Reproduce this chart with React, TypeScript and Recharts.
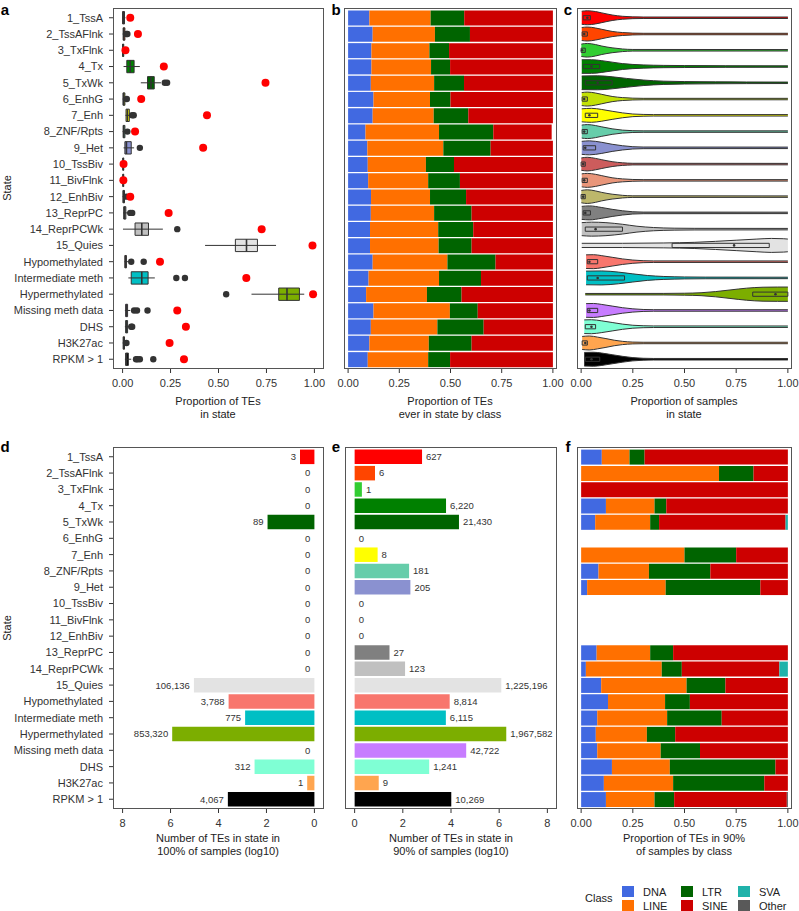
import React from 'react';
import {
  ScatterChart,
  ComposedChart,
  BarChart,
  Bar,
  Cell,
  Scatter,
  Area,
  XAxis,
  YAxis,
  ReferenceArea,
  ReferenceLine,
  ReferenceDot,
  LabelList,
} from 'recharts';

const FONT = '"Liberation Sans", Arial, Helvetica, sans-serif';
const INK = '#333333';
const TICK = { fontSize: 11, fill: INK };

const STATES = [
  '1_TssA', '2_TssAFlnk', '3_TxFlnk', '4_Tx', '5_TxWk', '6_EnhG', '7_Enh', '8_ZNF/Rpts',
  '9_Het', '10_TssBiv', '11_BivFlnk', '12_EnhBiv', '13_ReprPC', '14_ReprPCWk', '15_Quies',
  'Hypomethylated', 'Intermediate meth', 'Hypermethylated', 'Missing meth data', 'DHS',
  'H3K27ac', 'RPKM > 1',
];
const STATE_COLORS = [
  '#FF0000', '#FF4500', '#32CD32', '#008000', '#006400', '#C2E105', '#FFFF00', '#66CDAA',
  '#8A91D0', '#CD5C5C', '#E9967A', '#BDB76B', '#808080', '#C0C0C0', '#E3E3E3',
  '#F8766D', '#00BFC4', '#7CAE00', '#C77CFF', '#7FFFD4', '#FFA54F', '#000000',
];
const ROWS = STATES.map((_, i) => i + 1);

// panel a: proportion of TEs in state (boxplot per sample + red dot)
const BOX_LO = [0, 0, 0, 0.005, 0.095, 0, 0.015, 0, 0.005, 0, 0, 0, 0.003, 0.002, 0.43, 0.01, 0.03, 0.672, 0.012, 0.012, 0, 0.012];
const BOX_Q1 = [0, 0.003, 0, 0.022, 0.13, 0.002, 0.018, 0.003, 0.012, 0.001, 0.001, 0.002, 0.006, 0.065, 0.588, 0.012, 0.045, 0.814, 0.016, 0.016, 0.003, 0.016];
const BOX_MED = [0.004, 0.006, 0.002, 0.04, 0.148, 0.006, 0.025, 0.006, 0.02, 0.003, 0.003, 0.005, 0.01, 0.1, 0.646, 0.015, 0.1, 0.857, 0.02, 0.02, 0.006, 0.02];
const BOX_Q3 = [0.01, 0.012, 0.006, 0.06, 0.165, 0.012, 0.035, 0.012, 0.045, 0.006, 0.006, 0.01, 0.017, 0.135, 0.703, 0.02, 0.133, 0.922, 0.026, 0.026, 0.01, 0.03];
const BOX_HI = [0.015, 0.02, 0.01, 0.09, 0.2, 0.018, 0.045, 0.02, 0.06, 0.01, 0.01, 0.015, 0.03, 0.21, 0.8, 0.03, 0.168, 0.947, 0.04, 0.035, 0.015, 0.045];
const OUTLIERS = [
  [], [0.02, 0.025], [], [], [0.22, 0.232], [0.022], [0.05, 0.058], [0.025], [0.09], [], [], [0.02],
  [0.04, 0.05], [0.285], [], [0.045, 0.11], [0.28, 0.325], [0.54], [0.06, 0.075, 0.13],
  [0.045, 0.05], [0.02], [0.07, 0.078, 0.09, 0.16],
];
const RED_VALUES = [0.04, 0.08, 0.015, 0.215, 0.745, 0.097, 0.44, 0.065, 0.42, 0.005, 0.004, 0.04, 0.24, 0.725, 0.99, 0.195, 0.645, 0.993, 0.285, 0.33, 0.245, 0.32];

// panel b: proportion of TEs ever in state by class
const B_DNA = [0.104, 0.12, 0.114, 0.114, 0.111, 0.124, 0.12, 0.085, 0.094, 0.096, 0.098, 0.112, 0.111, 0.107, 0.107, 0.12, 0.1, 0.088, 0.124, 0.111, 0.104, 0.096];
const B_LINE = [0.299, 0.304, 0.283, 0.291, 0.309, 0.276, 0.298, 0.359, 0.371, 0.284, 0.293, 0.288, 0.309, 0.333, 0.335, 0.365, 0.344, 0.297, 0.373, 0.325, 0.29, 0.295];
const B_LTR = [0.164, 0.171, 0.096, 0.093, 0.146, 0.1, 0.169, 0.265, 0.231, 0.137, 0.155, 0.176, 0.183, 0.171, 0.161, 0.235, 0.205, 0.169, 0.136, 0.226, 0.209, 0.107];
const B_SINE = [0.433, 0.405, 0.507, 0.502, 0.434, 0.5, 0.413, 0.285, 0.304, 0.483, 0.454, 0.424, 0.397, 0.389, 0.397, 0.28, 0.351, 0.446, 0.367, 0.338, 0.397, 0.502];

// panel c: proportion of samples in state, violin outlines as [x, half width]
const VIOLINS: number[][][] = [
  [[0.003, 0.4], [0.03, 0.43], [0.07, 0.38], [0.1, 0.3], [0.15, 0.17], [0.2, 0.09], [0.25, 0.055], [0.3, 0.045], [1, 0.045]],
  [[0.003, 0.4], [0.03, 0.43], [0.07, 0.37], [0.1, 0.29], [0.15, 0.16], [0.2, 0.09], [0.25, 0.055], [0.3, 0.045], [1, 0.045]],
  [[0.001, 0.38], [0.03, 0.42], [0.07, 0.35], [0.1, 0.26], [0.15, 0.15], [0.2, 0.08], [0.25, 0.05], [1, 0.045]],
  [[0.003, 0.42], [0.05, 0.42], [0.1, 0.36], [0.15, 0.27], [0.2, 0.18], [0.3, 0.1], [0.4, 0.07], [0.5, 0.06], [0.7, 0.05], [1, 0.045]],
  [[0.003, 0.42], [0.08, 0.43], [0.15, 0.37], [0.22, 0.27], [0.3, 0.17], [0.4, 0.1], [0.5, 0.075], [0.65, 0.06], [0.8, 0.05], [1, 0.045]],
  [[0.003, 0.4], [0.03, 0.43], [0.07, 0.37], [0.1, 0.29], [0.15, 0.16], [0.2, 0.09], [0.25, 0.055], [0.3, 0.045], [1, 0.045]],
  [[0.003, 0.4], [0.05, 0.43], [0.1, 0.36], [0.15, 0.25], [0.2, 0.15], [0.25, 0.08], [0.3, 0.055], [0.35, 0.045], [1, 0.045]],
  [[0.003, 0.4], [0.03, 0.43], [0.07, 0.37], [0.1, 0.29], [0.15, 0.17], [0.2, 0.09], [0.25, 0.055], [0.3, 0.045], [1, 0.045]],
  [[0.003, 0.4], [0.04, 0.43], [0.1, 0.34], [0.15, 0.22], [0.2, 0.13], [0.25, 0.07], [0.3, 0.05], [1, 0.045]],
  [[0.001, 0.38], [0.03, 0.42], [0.07, 0.35], [0.1, 0.27], [0.15, 0.15], [0.2, 0.08], [0.25, 0.05], [1, 0.045]],
  [[0.003, 0.4], [0.03, 0.43], [0.07, 0.37], [0.1, 0.29], [0.15, 0.16], [0.2, 0.09], [0.25, 0.055], [0.3, 0.045], [1, 0.045]],
  [[0.001, 0.38], [0.03, 0.42], [0.07, 0.35], [0.1, 0.26], [0.15, 0.15], [0.2, 0.08], [0.25, 0.05], [1, 0.045]],
  [[0.003, 0.4], [0.04, 0.43], [0.1, 0.33], [0.15, 0.22], [0.2, 0.13], [0.25, 0.07], [0.3, 0.05], [1, 0.045]],
  [[0.003, 0.4], [0.05, 0.43], [0.12, 0.4], [0.2, 0.3], [0.27, 0.18], [0.35, 0.1], [0.45, 0.06], [0.55, 0.05], [1, 0.045]],
  [[0.003, 0.13], [0.2, 0.13], [0.4, 0.15], [0.55, 0.19], [0.65, 0.25], [0.75, 0.32], [0.85, 0.39], [0.92, 0.43], [0.98, 0.41], [1, 0.39]],
  [[0.024, 0.42], [0.06, 0.43], [0.1, 0.37], [0.15, 0.27], [0.2, 0.17], [0.25, 0.1], [0.3, 0.06], [0.35, 0.048], [1, 0.045]],
  [[0.024, 0.42], [0.1, 0.43], [0.18, 0.36], [0.25, 0.25], [0.32, 0.15], [0.4, 0.09], [0.5, 0.06], [0.6, 0.05], [1, 0.045]],
  [[0.02, 0.045], [0.4, 0.048], [0.5, 0.06], [0.58, 0.09], [0.65, 0.16], [0.72, 0.26], [0.8, 0.37], [0.88, 0.43], [0.95, 0.44], [1, 0.44]],
  [[0.024, 0.42], [0.06, 0.43], [0.1, 0.37], [0.15, 0.27], [0.2, 0.17], [0.25, 0.1], [0.3, 0.06], [0.35, 0.048], [1, 0.045]],
  [[0.015, 0.42], [0.05, 0.43], [0.1, 0.36], [0.15, 0.26], [0.2, 0.16], [0.25, 0.09], [0.3, 0.06], [0.35, 0.048], [1, 0.045]],
  [[0.005, 0.4], [0.04, 0.43], [0.08, 0.36], [0.12, 0.27], [0.16, 0.17], [0.2, 0.1], [0.25, 0.055], [0.3, 0.045], [1, 0.045]],
  [[0.015, 0.42], [0.06, 0.43], [0.1, 0.38], [0.15, 0.28], [0.2, 0.18], [0.25, 0.1], [0.3, 0.06], [0.35, 0.048], [1, 0.045]],
];
const C_Q1 = [0.01, 0.005, 0, 0.01, 0.02, 0.005, 0.02, 0.005, 0.01, 0, 0.005, 0, 0.01, 0.02, 0.44, 0.03, 0.03, 0.83, 0.03, 0.02, 0.005, 0.02];
const C_MED = [0.03, 0.015, 0.005, 0.05, 0.08, 0.015, 0.04, 0.015, 0.02, 0.01, 0.015, 0.01, 0.02, 0.07, 0.74, 0.04, 0.08, 0.94, 0.04, 0.05, 0.02, 0.05];
const C_Q3 = [0.045, 0.03, 0.02, 0.09, 0.15, 0.03, 0.08, 0.03, 0.07, 0.02, 0.03, 0.02, 0.045, 0.2, 0.91, 0.08, 0.21, 1, 0.08, 0.07, 0.03, 0.09];

// panel d / e: number of TEs in state in 100% / 90% of samples
const D_COUNTS = [3, 0, 0, 0, 89, 0, 0, 0, 0, 0, 0, 0, 0, 0, 106136, 3788, 775, 853320, 0, 312, 1, 4067];
const E_COUNTS = [627, 6, 1, 6220, 21430, 0, 8, 181, 205, 0, 0, 0, 27, 123, 1225196, 8814, 6115, 1967582, 42722, 1241, 9, 10269];

// panel f: proportion of TEs in 90% of samples by class
const F_DNA = [0.1, 0, 0, 0.12, 0.068, 0, 0, 0.084, 0.029, 0, 0, 0, 0.075, 0.023, 0.097, 0.13, 0.078, 0.071, 0.078, 0.149, 0.11, 0.12];
const F_LINE = [0.134, 0.667, 0, 0.235, 0.266, 0, 0.5, 0.244, 0.38, 0, 0, 0, 0.259, 0.367, 0.413, 0.276, 0.338, 0.247, 0.307, 0.28, 0.335, 0.235];
const F_LTR = [0.073, 0.167, 0, 0.057, 0.043, 0, 0.25, 0.297, 0.458, 0, 0, 0, 0.111, 0.097, 0.188, 0.12, 0.264, 0.137, 0.19, 0.511, 0.441, 0.095];
const F_SINE = [0.693, 0.166, 1, 0.588, 0.612, 0, 0.25, 0.375, 0.133, 0, 0, 0, 0.555, 0.472, 0.302, 0.474, 0.32, 0.545, 0.425, 0.06, 0.114, 0.545];
const F_SVA = [0, 0, 0, 0, 0.011, 0, 0, 0, 0, 0, 0, 0, 0, 0.041, 0, 0, 0, 0, 0, 0, 0, 0];
const F_OTHER = [0, 0, 0, 0, 0, 0, 0, 0, 0, 0, 0, 0, 0, 0, 0, 0, 0, 0, 0, 0, 0, 0.005];

const CLASSES = ['DNA', 'LINE', 'LTR', 'SINE', 'SVA', 'Other'];
const CLASS_COLORS = ['#4169E1', '#FF7000', '#006400', '#CD0000', '#20B2AA', '#595959'];

const PROP_TICKS = [0, 0.25, 0.5, 0.75, 1];
const LOG_TICKS = [0, 2, 4, 6, 8];
const f2 = (v: number) => v.toFixed(2);

// plot rectangles [x0, x1, y0, y1]
const TOP = [8, 369];
const BOT = [447, 809];
const PA = [113, 324, TOP[0], TOP[1]];
const PB = [344, 557, TOP[0], TOP[1]];
const PC = [577, 792, TOP[0], TOP[1]];
const PD = [113, 324, BOT[0], BOT[1]];
const PE = [345, 557, BOT[0], BOT[1]];
const PF = [577, 792, BOT[0], BOT[1]];

const frame = (p: number[], yw: number) => {
  const margin = { top: 6, right: 16, bottom: 0, left: yw ? 0 : 16 };
  return {
    style: { position: 'absolute' as const, left: p[0] - yw - margin.left, top: p[2] - margin.top },
    width: p[1] - p[0] + yw + margin.left + margin.right,
    height: p[3] - p[2] + margin.top + 30,
    margin,
  };
};

const classRows = (cols: number[][]) =>
  STATES.map((state, i) => {
    const row: Record<string, any> = { state };
    CLASSES.forEach((c, k) => {
      row[c] = cols[k] ? cols[k][i] : 0;
    });
    return row;
  });

const bRows = classRows([B_DNA, B_LINE, B_LTR, B_SINE]);
const fRows = classRows([F_DNA, F_LINE, F_LTR, F_SINE, F_SVA, F_OTHER]);
const dRows = STATES.map((state, i) => ({ state, n: D_COUNTS[i], v: Math.log10(D_COUNTS[i] + 1) }));
const eRows = STATES.map((state, i) => ({ state, n: E_COUNTS[i], v: Math.log10(E_COUNTS[i] + 1) }));

const outlierPts = OUTLIERS.flatMap((vals, i) => vals.map((x) => ({ x, y: i + 1 })));
const redPts = RED_VALUES.map((x, i) => ({ x, y: i + 1 }));

const xAxisCommon = {
  type: 'number' as const,
  axisLine: false,
  tickSize: 4,
  tickMargin: 6,
  tick: TICK,
  tickLine: { stroke: INK },
  allowDataOverflow: true,
  height: 30,
  interval: 0 as const,
};

// y tick labels drawn on one line (no wrapping)
const StateTick = (props: any) => {
  const v = props.payload.value;
  const label = typeof v === 'number' ? STATES[v - 1] : v;
  return (
    <text x={props.x} y={props.y} dy="0.355em" textAnchor="end" fontSize={11} fill={INK}>
      {label}
    </text>
  );
};

const yAxisLabels = {
  width: 113,
  interval: 0 as const,
  axisLine: false,
  tickSize: 4,
  tickMargin: 6,
  tick: StateTick,
  tickLine: { stroke: INK },
};

const Border = ({ p }: { p: number[] }) => (
  <div
    style={{
      position: 'absolute',
      left: p[0],
      top: p[2],
      width: p[1] - p[0],
      height: p[3] - p[2],
      border: '1px solid #555',
      boxSizing: 'border-box',
      pointerEvents: 'none',
    }}
  />
);

const Txt = ({ x, y, children, size = 11, bold = false, rotate = false, align = 'center' }: any) => (
  <div
    style={{
      position: 'absolute',
      left: x,
      top: y,
      fontSize: size,
      fontWeight: bold ? 700 : 400,
      lineHeight: 1,
      whiteSpace: 'nowrap',
      color: bold ? '#000' : '#222',
      transform: `translate(${align === 'center' ? '-50%' : '0'}, -50%)${rotate ? ' rotate(-90deg)' : ''}`,
    }}
  >
    {children}
  </div>
);

const fmt = (n: number) => n.toLocaleString('en-US');

const LeftLabel = (props: any) => {
  const { x, y, width, height, value } = props;
  if (!value) return null;
  const left = Math.min(x, x + width);
  return (
    <text x={left - 4} y={y + height / 2} dy="0.35em" textAnchor="end" fontSize={9.5} fill={INK}>
      {fmt(value)}
    </text>
  );
};

const RightLabel = (props: any) => {
  const { x, y, width, height, value } = props;
  if (!value) return null;
  const right = Math.max(x, x + width);
  return (
    <text x={right + 4} y={y + height / 2} dy="0.35em" textAnchor="start" fontSize={9.5} fill={INK}>
      {fmt(value)}
    </text>
  );
};

// "0" labels for empty rows, anchored at x = 0 through a reference dot
const zeroLabel = (side: 'left' | 'right') => (props: any) => {
  const vb = props.viewBox;
  const cx = vb.x + vb.width / 2;
  const cy = vb.y + vb.height / 2;
  return (
    <text
      x={side === 'left' ? cx - 4 : cx + 4}
      y={cy}
      dy="0.35em"
      textAnchor={side === 'left' ? 'end' : 'start'}
      fontSize={9.5}
      fill={INK}
    >
      0
    </text>
  );
};

const PanelA = () => {
  const fa = frame(PA, 113);
  return (
    <ScatterChart width={fa.width} height={fa.height} margin={fa.margin} style={fa.style}>
      <XAxis {...xAxisCommon} dataKey="x" domain={[-0.05, 1.05]} ticks={PROP_TICKS} tickFormatter={f2} />
      <YAxis
        {...yAxisLabels}
        type="number"
        dataKey="y"
        domain={[0.4, 22.6]}
        reversed
        ticks={ROWS}
        allowDataOverflow
      />
      {STATES.map((s, i) => (
        <ReferenceLine
          key={`w${i}`}
          segment={[{ x: BOX_LO[i], y: i + 1 }, { x: BOX_HI[i], y: i + 1 }]}
          stroke={INK}
          strokeWidth={1}
          ifOverflow="visible"
        />
      ))}
      {STATES.map((s, i) => (
        <ReferenceArea
          key={`b${i}`}
          x1={BOX_Q1[i]}
          x2={BOX_Q3[i]}
          y1={i + 1 - 0.38}
          y2={i + 1 + 0.38}
          fill={STATE_COLORS[i]}
          fillOpacity={1}
          stroke={INK}
          strokeWidth={1}
          ifOverflow="visible"
        />
      ))}
      {STATES.map((s, i) => (
        <ReferenceLine
          key={`m${i}`}
          segment={[{ x: BOX_MED[i], y: i + 1 - 0.38 }, { x: BOX_MED[i], y: i + 1 + 0.38 }]}
          stroke={INK}
          strokeWidth={1.6}
          ifOverflow="visible"
        />
      ))}
      <Scatter
        data={outlierPts}
        isAnimationActive={false}
        shape={(p: any) => <circle cx={p.cx} cy={p.cy} r={3.2} fill={INK} />}
      />
      <Scatter
        data={redPts}
        isAnimationActive={false}
        shape={(p: any) => <circle cx={p.cx} cy={p.cy} r={4} fill="#FF0000" />}
      />
    </ScatterChart>
  );
};

const ClassPanel = ({ p, rows }: { p: number[]; rows: any[] }) => {
  const fr = frame(p, 0);
  return (
    <BarChart
      layout="vertical"
      data={rows}
      width={fr.width}
      height={fr.height}
      margin={fr.margin}
      style={fr.style}
      barSize={15}
    >
      <XAxis {...xAxisCommon} domain={[-0.02, 1.02]} ticks={PROP_TICKS} tickFormatter={f2} />
      <YAxis type="category" dataKey="state" hide padding={{ top: 1.6, bottom: 1.6 }} />
      {CLASSES.map((c, k) => (
        <Bar key={c} dataKey={c} stackId="s" fill={CLASS_COLORS[k]} isAnimationActive={false} />
      ))}
    </BarChart>
  );
};

const PanelC = () => {
  const fc = frame(PC, 0);
  return (
    <ComposedChart width={fc.width} height={fc.height} margin={fc.margin} style={fc.style}>
      <XAxis {...xAxisCommon} dataKey="x" domain={[-0.02, 1.02]} ticks={PROP_TICKS} tickFormatter={f2} />
      <YAxis type="number" hide domain={[0.4, 22.6]} reversed allowDataOverflow />
      {VIOLINS.map((v, i) => (
        <Area
          key={`v${i}`}
          data={v.map(([x, w]) => ({ x, band: [i + 1 - w, i + 1 + w] }))}
          dataKey="band"
          type="monotone"
          fill={STATE_COLORS[i]}
          fillOpacity={1}
          stroke={INK}
          strokeWidth={1}
          dot={false}
          activeDot={false}
          isAnimationActive={false}
        />
      ))}
      {STATES.map((s, i) => (
        <ReferenceArea
          key={`cb${i}`}
          x1={C_Q1[i]}
          x2={C_Q3[i]}
          y1={i + 1 - 0.13}
          y2={i + 1 + 0.13}
          fill="none"
          stroke={INK}
          strokeWidth={1}
          ifOverflow="visible"
        />
      ))}
      {STATES.map((s, i) => (
        <ReferenceDot key={`cm${i}`} x={C_MED[i]} y={i + 1} r={1.3} fill={INK} stroke="none" ifOverflow="visible" />
      ))}
    </ComposedChart>
  );
};

const PanelD = () => {
  const fd = frame(PD, 113);
  return (
    <BarChart
      layout="vertical"
      data={dRows}
      width={fd.width}
      height={fd.height}
      margin={fd.margin}
      style={fd.style}
      barSize={14.5}
    >
      <XAxis {...xAxisCommon} domain={[-0.4, 8.4]} reversed ticks={LOG_TICKS} />
      <YAxis {...yAxisLabels} type="category" dataKey="state" padding={{ top: 1.6, bottom: 1.6 }} />
      <Bar dataKey="v" isAnimationActive={false}>
        {dRows.map((r, i) => (
          <Cell key={r.state} fill={STATE_COLORS[i]} />
        ))}
        <LabelList dataKey="n" content={LeftLabel} />
      </Bar>
      {dRows
        .filter((r) => r.n === 0)
        .map((r) => (
          <ReferenceDot
            key={`z${r.state}`}
            x={0}
            y={r.state}
            r={1}
            fill="none"
            stroke="none"
            ifOverflow="visible"
            label={zeroLabel('left')}
          />
        ))}
    </BarChart>
  );
};

const PanelE = () => {
  const fe = frame(PE, 0);
  return (
    <BarChart
      layout="vertical"
      data={eRows}
      width={fe.width}
      height={fe.height}
      margin={fe.margin}
      style={fe.style}
      barSize={14.5}
    >
      <XAxis {...xAxisCommon} domain={[-0.4, 8.4]} ticks={LOG_TICKS} />
      <YAxis type="category" dataKey="state" hide padding={{ top: 1.6, bottom: 1.6 }} />
      <Bar dataKey="v" isAnimationActive={false}>
        {eRows.map((r, i) => (
          <Cell key={r.state} fill={STATE_COLORS[i]} />
        ))}
        <LabelList dataKey="n" content={RightLabel} />
      </Bar>
      {eRows
        .filter((r) => r.n === 0)
        .map((r) => (
          <ReferenceDot
            key={`z${r.state}`}
            x={0}
            y={r.state}
            r={1}
            fill="none"
            stroke="none"
            ifOverflow="visible"
            label={zeroLabel('right')}
          />
        ))}
    </BarChart>
  );
};

const Legend = () => (
  <>
    <Txt x={585} y={898} align="left">Class</Txt>
    {CLASSES.map((c, k) => {
      const col = Math.floor(k / 2);
      const row = k % 2;
      const sx = [622, 681, 738][col];
      const sy = [886, 900][row];
      return (
        <React.Fragment key={c}>
          <div
            style={{ position: 'absolute', left: sx, top: sy, width: 12, height: 11, background: CLASS_COLORS[k] }}
          />
          <Txt x={sx + 21} y={sy + 6} align="left">{c}</Txt>
        </React.Fragment>
      );
    })}
  </>
);

export default function App() {
  return (
    <div
      style={{
        position: 'absolute',
        left: 0,
        top: 0,
        width: 799,
        height: 911,
        overflow: 'hidden',
        background: '#fff',
        fontFamily: FONT,
      }}
    >
      <PanelA />
      <ClassPanel p={PB} rows={bRows} />
      <PanelC />
      <PanelD />
      <PanelE />
      <ClassPanel p={PF} rows={fRows} />

      {[PA, PB, PC, PD, PE, PF].map((p, i) => (
        <Border key={i} p={p} />
      ))}

      <Txt x={5} y={9} size={15} bold>a</Txt>
      <Txt x={336} y={9} size={15} bold>b</Txt>
      <Txt x={568} y={9} size={15} bold>c</Txt>
      <Txt x={5} y={446} size={15} bold>d</Txt>
      <Txt x={336} y={446} size={15} bold>e</Txt>
      <Txt x={568} y={446} size={15} bold>f</Txt>

      <Txt x={7} y={188} rotate>State</Txt>
      <Txt x={7} y={628} rotate>State</Txt>

      <Txt x={218} y={401}>Proportion of TEs</Txt>
      <Txt x={218} y={414}>in state</Txt>
      <Txt x={450} y={401}>Proportion of TEs</Txt>
      <Txt x={450} y={414}>ever in state by class</Txt>
      <Txt x={684} y={401}>Proportion of samples</Txt>
      <Txt x={684} y={414}>in state</Txt>

      <Txt x={218} y={838}>Number of TEs in state in</Txt>
      <Txt x={218} y={851}>100% of samples (log10)</Txt>
      <Txt x={451} y={838}>Number of TEs in state in</Txt>
      <Txt x={451} y={851}>90% of samples (log10)</Txt>
      <Txt x={684} y={838}>Proportion of TEs in 90%</Txt>
      <Txt x={684} y={851}>of samples by class</Txt>

      <Legend />
    </div>
  );
}
